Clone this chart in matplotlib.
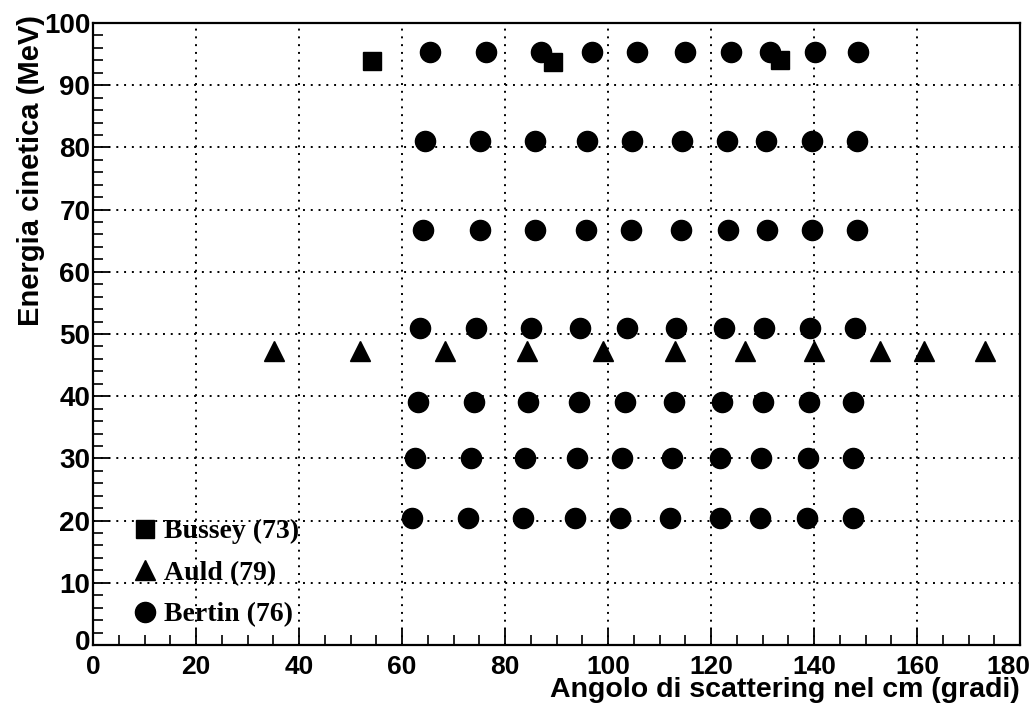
import matplotlib
matplotlib.use("Agg")
import matplotlib.pyplot as plt
import matplotlib.transforms as mtransforms
from matplotlib.ticker import MultipleLocator

# Bussey (73)
bussey_angle = [54.2, 89.3, 133.4]
bussey_energy = [93.9, 93.7, 94.1]

# Auld (79)
auld_angle = [35.1, 51.8, 68.3, 84.3, 99.0, 113.0, 126.6, 140.0, 152.8, 161.4, 173.2]
auld_energy = [47.3] * 11

# Bertin (76): one list of angles per energy row
bertin_rows = {
    95.3: [65.4, 76.3, 87.0, 96.9, 105.6, 115.0, 123.9, 131.5, 140.2, 148.5],
    81.0: [64.5, 75.1, 85.8, 95.9, 104.7, 114.4, 123.1, 130.7, 139.6, 148.3],
    66.8: [64.1, 75.1, 85.8, 95.7, 104.5, 114.2, 123.3, 130.9, 139.6, 148.3],
    51.0: [63.5, 74.4, 85.0, 94.6, 103.7, 113.2, 122.5, 130.3, 139.2, 148.0],
    39.1: [63.1, 74.0, 84.5, 94.4, 103.3, 112.8, 122.1, 130.1, 139.0, 147.6],
    30.1: [62.5, 73.4, 83.9, 94.0, 102.7, 112.4, 121.7, 129.7, 138.8, 147.6],
    20.4: [61.9, 72.8, 83.5, 93.6, 102.3, 112.0, 121.7, 129.5, 138.6, 147.6],
}
bertin_angle = [a for e, row in bertin_rows.items() for a in row]
bertin_energy = [e for e, row in bertin_rows.items() for a in row]

x_ticks = [0, 20, 40, 60, 80, 100, 120, 140, 160, 180]
y_ticks = [0, 10, 20, 30, 40, 50, 60, 70, 80, 90, 100]

fig = plt.figure(figsize=(10.36, 7.06), dpi=100)
ax = fig.add_axes([0.0898, 0.0864, 0.8948, 0.881])

ax.plot(bussey_angle, bussey_energy, 's', color='black', ms=13.5, ls='none', label='Bussey (73)', zorder=3)
ax.plot(auld_angle, auld_energy, '^', color='black', ms=14, ls='none', label='Auld (79)', zorder=3)
ax.plot(bertin_angle, bertin_energy, 'o', color='black', ms=14.5, ls='none', label='Bertin (76)', zorder=3)

ax.set_xlim(0, 180)
ax.set_ylim(0, 100)
ax.set_xticks(x_ticks)
ax.set_yticks(y_ticks)
ax.xaxis.set_minor_locator(MultipleLocator(5))
ax.yaxis.set_minor_locator(MultipleLocator(2))
ax.tick_params(which='major', direction='in', length=12, width=1.3, labelsize=19)
ax.tick_params(axis='x', which='major', pad=7)
ax.tick_params(axis='y', which='major', pad=2, labelsize=20)
ax.tick_params(which='minor', direction='in', length=7, width=1.2)
for lab in ax.get_xticklabels() + ax.get_yticklabels():
    lab.set_fontweight('bold')
    lab.set_family('Liberation Sans')
# keep the last x tick label inside the figure, as in the reference
last = ax.get_xticklabels()[-1]
last.set_transform(last.get_transform() +
                   mtransforms.ScaledTranslation(-0.12, 0, fig.dpi_scale_trans))
# lift the y "0" label slightly so it clears the x "0" label
first_y = ax.get_yticklabels()[0]
first_y.set_transform(first_y.get_transform() +
                      mtransforms.ScaledTranslation(0, 0.05, fig.dpi_scale_trans))
for s in ax.spines.values():
    s.set_linewidth(1.6)

ax.grid(True, which='major', color='black', linestyle=(0, (1, 3)), linewidth=1.4)
ax.set_axisbelow(True)

ax.set_xlabel('Angolo di scattering nel cm (gradi)', fontsize=20.5, fontweight='bold',
              family='Liberation Sans', loc='right')
ax.xaxis.set_label_coords(1.0, -0.052)
ax.set_ylabel('Energia cinetica (MeV)', fontsize=21, fontweight='bold',
              family='Liberation Sans', loc='top')
ax.yaxis.set_label_coords(-0.052, 1.013)

leg = ax.legend(loc='lower left', bbox_to_anchor=(0.014, -0.012), frameon=False,
                prop={'family': 'Liberation Serif', 'weight': 'bold', 'size': 20},
                handletextpad=0.2, labelspacing=0.58, handlelength=1.0, markerscale=1.0)

fig.savefig('out.png', dpi=100)
